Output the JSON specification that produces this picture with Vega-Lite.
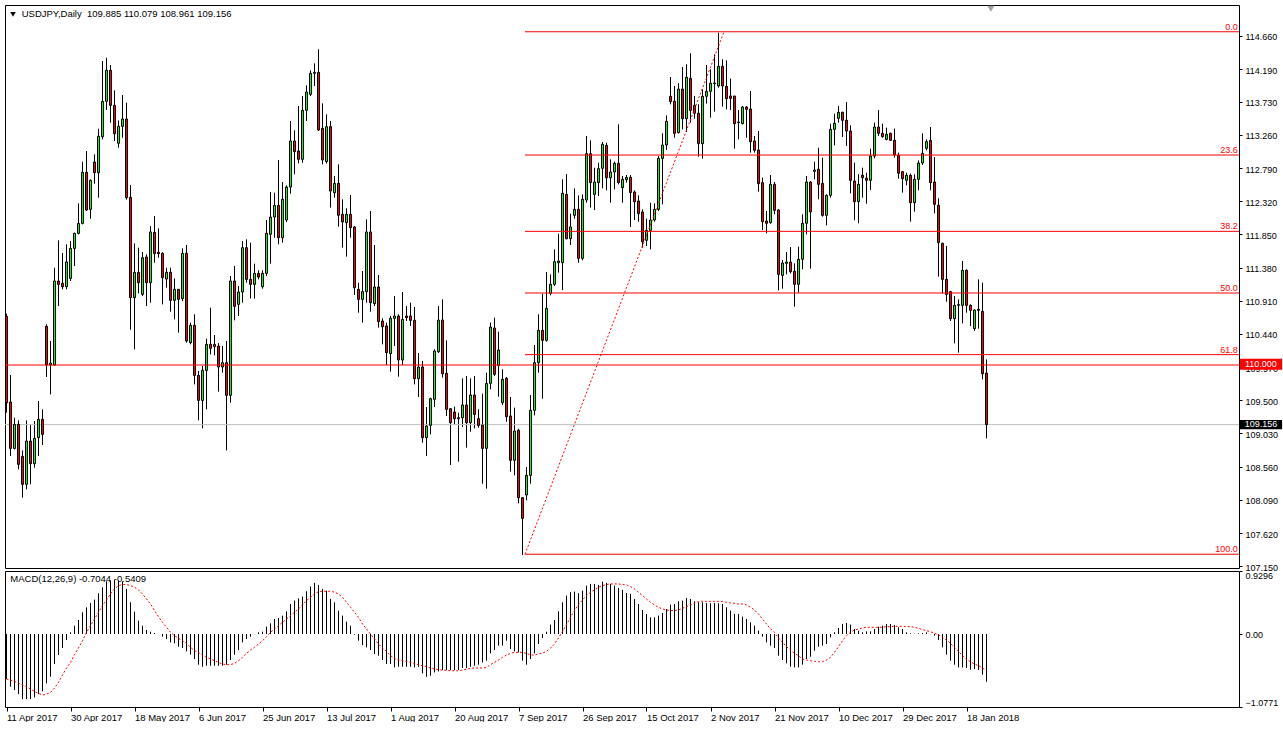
{
"$schema": "https://vega.github.io/schema/vega-lite/v6.json",
"background": "white",
"padding": {"left": 4, "top": 4, "right": 0, "bottom": 0},
"spacing": 3,
"bounds": "flush",
"config": {
 "view": {"stroke": "#000000", "strokeWidth": 1},
 "axis": {"labelFont": "Liberation Sans", "labelFontSize": 9, "labelColor": "#000000", "tickColor": "#000000", "grid": false, "domain": false, "title": null, "labelOverlap": false, "labelFlush": false, "labelBound": false},
 "text": {"font": "Liberation Sans"}
},
"resolve": {"scale": {"x": "independent", "y": "independent"}},
"datasets": {
 "fib": [{"lvl":"0.0","p":114.72},{"lvl":"23.6","p":112.974},{"lvl":"38.2","p":111.893},{"lvl":"50.0","p":111.02},{"lvl":"61.8","p":110.147},{"lvl":"100.0","p":107.32}],
 "trend": [{"i":129.625,"p":107.32},{"i":179.375,"p":114.72}],
 "px": [
{"i":0,"o":110.689,"h":110.727,"l":109.325,"c":109.466,"m":-0.665,"s":-0.665},
{"i":1,"o":109.476,"h":109.858,"l":108.711,"c":108.819,"m":-0.778,"s":-0.680},
{"i":2,"o":108.819,"h":109.254,"l":108.805,"c":109.159,"m":-0.828,"s":-0.700},
{"i":3,"o":109.159,"h":109.216,"l":108.522,"c":108.593,"m":-0.887,"s":-0.724},
{"i":4,"o":108.706,"h":108.791,"l":108.121,"c":108.310,"m":-0.961,"s":-0.749},
{"i":5,"o":108.310,"h":109.216,"l":108.239,"c":108.923,"m":-0.961,"s":-0.778},
{"i":6,"o":108.923,"h":109.150,"l":108.310,"c":108.602,"m":-0.961,"s":-0.813},
{"i":7,"o":108.602,"h":109.207,"l":108.546,"c":108.961,"m":-0.936,"s":-0.847},
{"i":8,"o":108.971,"h":109.490,"l":108.711,"c":109.230,"m":-0.887,"s":-0.877},
{"i":9,"o":109.230,"h":109.372,"l":108.867,"c":109.018,"m":-0.847,"s":-0.901},
{"i":10,"o":110.548,"h":110.576,"l":109.830,"c":110.000,"m":-0.729,"s":-0.887},
{"i":11,"o":110.000,"h":110.340,"l":109.584,"c":110.028,"m":-0.631,"s":-0.862},
{"i":12,"o":110.000,"h":111.378,"l":109.986,"c":111.190,"m":-0.443,"s":-0.798},
{"i":13,"o":111.190,"h":111.766,"l":110.836,"c":111.142,"m":-0.310,"s":-0.714},
{"i":14,"o":111.157,"h":111.586,"l":111.072,"c":111.109,"m":-0.207,"s":-0.606},
{"i":15,"o":111.109,"h":111.709,"l":111.072,"c":111.459,"m":-0.089,"s":-0.502},
{"i":16,"o":111.227,"h":111.756,"l":111.190,"c":111.652,"m":0.025,"s":-0.419},
{"i":17,"o":111.652,"h":111.874,"l":111.402,"c":111.865,"m":0.123,"s":-0.305},
{"i":18,"o":111.865,"h":112.290,"l":111.851,"c":112.006,"m":0.207,"s":-0.207},
{"i":19,"o":112.006,"h":112.880,"l":111.992,"c":112.729,"m":0.320,"s":-0.099},
{"i":20,"o":112.729,"h":113.031,"l":112.181,"c":112.195,"m":0.394,"s":0.025},
{"i":21,"o":112.205,"h":112.630,"l":112.072,"c":112.615,"m":0.458,"s":0.123},
{"i":22,"o":112.875,"h":112.984,"l":112.568,"c":112.724,"m":0.507,"s":0.222},
{"i":23,"o":112.724,"h":113.347,"l":112.370,"c":113.239,"m":0.601,"s":0.320},
{"i":24,"o":113.234,"h":114.306,"l":113.196,"c":113.734,"m":0.690,"s":0.419},
{"i":25,"o":113.734,"h":114.353,"l":113.612,"c":114.174,"m":0.778,"s":0.502},
{"i":26,"o":114.174,"h":114.249,"l":113.432,"c":113.678,"m":0.788,"s":0.591},
{"i":27,"o":113.678,"h":113.890,"l":113.173,"c":113.277,"m":0.798,"s":0.665},
{"i":28,"o":113.140,"h":113.465,"l":113.078,"c":113.380,"m":0.788,"s":0.714},
{"i":29,"o":113.380,"h":113.824,"l":113.220,"c":113.484,"m":0.778,"s":0.729},
{"i":30,"o":113.484,"h":113.716,"l":112.342,"c":112.370,"m":0.665,"s":0.729},
{"i":31,"o":112.375,"h":112.549,"l":110.500,"c":110.954,"m":0.468,"s":0.714},
{"i":32,"o":110.954,"h":111.723,"l":110.222,"c":111.312,"m":0.330,"s":0.690},
{"i":33,"o":111.312,"h":111.662,"l":111.015,"c":111.166,"m":0.197,"s":0.650},
{"i":34,"o":111.001,"h":111.600,"l":110.977,"c":111.520,"m":0.123,"s":0.591},
{"i":35,"o":111.530,"h":111.567,"l":110.836,"c":111.166,"m":0.059,"s":0.517},
{"i":36,"o":111.166,"h":111.969,"l":110.883,"c":111.884,"m":0.034,"s":0.443},
{"i":37,"o":111.879,"h":112.110,"l":111.449,"c":111.577,"m":0.015,"s":0.345},
{"i":38,"o":111.596,"h":111.936,"l":111.520,"c":111.577,"m":-0.002,"s":0.256},
{"i":39,"o":111.582,"h":111.596,"l":110.859,"c":111.237,"m":-0.039,"s":0.172},
{"i":40,"o":111.218,"h":111.378,"l":111.095,"c":111.312,"m":-0.074,"s":0.099},
{"i":41,"o":111.312,"h":111.378,"l":110.755,"c":110.916,"m":-0.123,"s":0.025},
{"i":42,"o":110.916,"h":111.227,"l":110.647,"c":111.072,"m":-0.138,"s":-0.025},
{"i":43,"o":111.072,"h":111.072,"l":110.458,"c":110.930,"m":-0.187,"s":-0.064},
{"i":44,"o":110.939,"h":111.652,"l":110.906,"c":111.582,"m":-0.207,"s":-0.099},
{"i":45,"o":111.582,"h":111.700,"l":110.316,"c":110.340,"m":-0.256,"s":-0.138},
{"i":46,"o":110.316,"h":110.599,"l":110.293,"c":110.562,"m":-0.305,"s":-0.197},
{"i":47,"o":110.562,"h":110.718,"l":109.726,"c":109.853,"m":-0.369,"s":-0.246},
{"i":48,"o":109.853,"h":109.915,"l":109.216,"c":109.499,"m":-0.453,"s":-0.271},
{"i":49,"o":109.499,"h":109.986,"l":109.103,"c":109.924,"m":-0.483,"s":-0.310},
{"i":50,"o":109.924,"h":110.373,"l":109.372,"c":110.293,"m":-0.468,"s":-0.345},
{"i":51,"o":110.293,"h":110.812,"l":110.151,"c":110.236,"m":-0.468,"s":-0.369},
{"i":52,"o":110.293,"h":110.425,"l":110.137,"c":110.260,"m":-0.468,"s":-0.394},
{"i":53,"o":110.269,"h":110.311,"l":109.622,"c":109.972,"m":-0.468,"s":-0.419},
{"i":54,"o":109.972,"h":110.269,"l":109.891,"c":110.033,"m":-0.468,"s":-0.443},
{"i":55,"o":110.033,"h":110.340,"l":108.791,"c":109.570,"m":-0.453,"s":-0.453},
{"i":56,"o":109.570,"h":111.260,"l":109.466,"c":111.190,"m":-0.384,"s":-0.453},
{"i":57,"o":111.190,"h":111.402,"l":110.633,"c":110.831,"m":-0.305,"s":-0.433},
{"i":58,"o":110.859,"h":111.119,"l":110.694,"c":111.034,"m":-0.236,"s":-0.394},
{"i":59,"o":111.034,"h":111.756,"l":110.883,"c":111.662,"m":-0.123,"s":-0.345},
{"i":60,"o":111.662,"h":111.780,"l":111.166,"c":111.213,"m":-0.074,"s":-0.286},
{"i":61,"o":111.213,"h":111.733,"l":110.944,"c":111.142,"m":-0.039,"s":-0.236},
{"i":62,"o":111.142,"h":111.435,"l":110.939,"c":111.298,"m":-0.002,"s":-0.197},
{"i":63,"o":111.298,"h":111.341,"l":111.213,"c":111.246,"m":0.025,"s":-0.148},
{"i":64,"o":111.109,"h":111.341,"l":111.081,"c":111.298,"m":0.034,"s":-0.099},
{"i":65,"o":111.298,"h":112.054,"l":111.260,"c":111.865,"m":0.108,"s":-0.039},
{"i":66,"o":111.851,"h":112.450,"l":111.435,"c":112.096,"m":0.158,"s":0.025},
{"i":67,"o":112.096,"h":112.441,"l":111.803,"c":112.261,"m":0.222,"s":0.074},
{"i":68,"o":112.261,"h":112.904,"l":111.709,"c":111.803,"m":0.236,"s":0.123},
{"i":69,"o":111.803,"h":112.592,"l":111.733,"c":112.346,"m":0.271,"s":0.172},
{"i":70,"o":112.054,"h":112.545,"l":112.025,"c":112.521,"m":0.335,"s":0.222},
{"i":71,"o":112.521,"h":113.456,"l":112.427,"c":113.173,"m":0.443,"s":0.271},
{"i":72,"o":113.173,"h":113.324,"l":112.700,"c":113.022,"m":0.493,"s":0.320},
{"i":73,"o":113.031,"h":113.668,"l":112.856,"c":112.913,"m":0.527,"s":0.369},
{"i":74,"o":112.913,"h":113.810,"l":112.866,"c":113.607,"m":0.552,"s":0.429},
{"i":75,"o":113.607,"h":113.961,"l":113.456,"c":113.867,"m":0.631,"s":0.493},
{"i":76,"o":113.834,"h":114.174,"l":113.810,"c":114.131,"m":0.700,"s":0.542},
{"i":77,"o":114.131,"h":114.273,"l":113.952,"c":114.145,"m":0.754,"s":0.591},
{"i":78,"o":114.145,"h":114.471,"l":113.314,"c":113.328,"m":0.724,"s":0.626},
{"i":79,"o":113.352,"h":113.706,"l":112.842,"c":112.904,"m":0.665,"s":0.631},
{"i":80,"o":112.880,"h":113.550,"l":112.852,"c":113.376,"m":0.640,"s":0.631},
{"i":81,"o":113.376,"h":113.456,"l":112.228,"c":112.464,"m":0.517,"s":0.631},
{"i":82,"o":112.441,"h":112.677,"l":112.370,"c":112.573,"m":0.468,"s":0.616},
{"i":83,"o":112.573,"h":112.842,"l":111.959,"c":112.120,"m":0.345,"s":0.591},
{"i":84,"o":112.134,"h":112.347,"l":111.662,"c":112.026,"m":0.271,"s":0.542},
{"i":85,"o":112.016,"h":112.219,"l":111.535,"c":112.134,"m":0.182,"s":0.468},
{"i":86,"o":112.134,"h":112.408,"l":111.804,"c":111.945,"m":0.123,"s":0.394},
{"i":87,"o":111.955,"h":111.969,"l":110.992,"c":111.095,"m":-0.010,"s":0.320},
{"i":88,"o":111.072,"h":111.166,"l":110.741,"c":110.930,"m":-0.099,"s":0.246},
{"i":89,"o":110.930,"h":111.331,"l":110.600,"c":111.039,"m":-0.163,"s":0.148},
{"i":90,"o":111.039,"h":112.063,"l":110.883,"c":111.884,"m":-0.197,"s":0.074},
{"i":91,"o":111.884,"h":112.181,"l":110.755,"c":110.883,"m":-0.236,"s":0.000},
{"i":92,"o":110.869,"h":111.700,"l":110.836,"c":111.105,"m":-0.296,"s":-0.074},
{"i":93,"o":111.105,"h":111.275,"l":110.529,"c":110.614,"m":-0.320,"s":-0.148},
{"i":94,"o":110.623,"h":110.661,"l":110.293,"c":110.543,"m":-0.384,"s":-0.207},
{"i":95,"o":110.552,"h":110.600,"l":110.000,"c":110.175,"m":-0.443,"s":-0.256},
{"i":96,"o":110.161,"h":110.694,"l":109.906,"c":110.661,"m":-0.443,"s":-0.320},
{"i":97,"o":110.661,"h":110.977,"l":110.269,"c":110.694,"m":-0.493,"s":-0.360},
{"i":98,"o":110.694,"h":110.718,"l":109.835,"c":110.071,"m":-0.483,"s":-0.384},
{"i":99,"o":110.071,"h":111.034,"l":110.000,"c":110.647,"m":-0.483,"s":-0.394},
{"i":100,"o":110.694,"h":110.836,"l":110.623,"c":110.670,"m":-0.483,"s":-0.404},
{"i":101,"o":110.694,"h":110.883,"l":110.552,"c":110.633,"m":-0.483,"s":-0.419},
{"i":102,"o":110.633,"h":110.822,"l":109.726,"c":109.806,"m":-0.493,"s":-0.433},
{"i":103,"o":109.806,"h":110.170,"l":109.547,"c":109.972,"m":-0.483,"s":-0.453},
{"i":104,"o":109.972,"h":110.057,"l":108.900,"c":108.971,"m":-0.581,"s":-0.468},
{"i":105,"o":108.971,"h":109.405,"l":108.711,"c":109.136,"m":-0.631,"s":-0.483},
{"i":106,"o":109.145,"h":109.537,"l":109.018,"c":109.523,"m":-0.616,"s":-0.502},
{"i":107,"o":109.514,"h":110.222,"l":109.405,"c":110.198,"m":-0.567,"s":-0.517},
{"i":108,"o":110.189,"h":110.836,"l":110.170,"c":110.637,"m":-0.552,"s":-0.527},
{"i":109,"o":110.637,"h":110.930,"l":109.821,"c":109.877,"m":-0.532,"s":-0.532},
{"i":110,"o":109.882,"h":110.349,"l":109.278,"c":109.372,"m":-0.532,"s":-0.537},
{"i":111,"o":109.382,"h":109.382,"l":108.584,"c":109.183,"m":-0.532,"s":-0.542},
{"i":112,"o":109.334,"h":109.410,"l":109.160,"c":109.240,"m":-0.532,"s":-0.542},
{"i":113,"o":109.240,"h":109.325,"l":108.631,"c":109.254,"m":-0.532,"s":-0.542},
{"i":114,"o":109.254,"h":109.811,"l":109.122,"c":109.434,"m":-0.502,"s":-0.532},
{"i":115,"o":109.434,"h":109.844,"l":108.829,"c":109.183,"m":-0.502,"s":-0.517},
{"i":116,"o":109.183,"h":109.811,"l":109.056,"c":109.575,"m":-0.483,"s":-0.507},
{"i":117,"o":109.575,"h":109.844,"l":109.103,"c":109.301,"m":-0.468,"s":-0.502},
{"i":118,"o":109.240,"h":109.372,"l":109.112,"c":109.145,"m":-0.453,"s":-0.502},
{"i":119,"o":109.150,"h":109.594,"l":108.319,"c":108.820,"m":-0.419,"s":-0.502},
{"i":120,"o":108.820,"h":109.891,"l":108.248,"c":109.740,"m":-0.394,"s":-0.493},
{"i":121,"o":109.740,"h":110.600,"l":109.655,"c":110.538,"m":-0.286,"s":-0.453},
{"i":122,"o":110.524,"h":110.670,"l":109.844,"c":109.868,"m":-0.236,"s":-0.419},
{"i":123,"o":109.995,"h":110.472,"l":109.551,"c":110.212,"m":-0.172,"s":-0.384},
{"i":124,"o":109.466,"h":109.939,"l":109.433,"c":109.797,"m":-0.172,"s":-0.345},
{"i":125,"o":109.811,"h":109.830,"l":109.197,"c":109.268,"m":-0.099,"s":-0.310},
{"i":126,"o":109.278,"h":109.547,"l":108.489,"c":108.650,"m":-0.222,"s":-0.286},
{"i":127,"o":108.650,"h":109.396,"l":108.437,"c":109.065,"m":-0.256,"s":-0.271},
{"i":128,"o":109.075,"h":109.098,"l":108.041,"c":108.121,"m":-0.271,"s":-0.271},
{"i":129,"o":108.121,"h":108.121,"l":107.309,"c":107.828,"m":-0.394,"s":-0.271},
{"i":130,"o":108.159,"h":108.555,"l":108.083,"c":108.437,"m":-0.453,"s":-0.286},
{"i":131,"o":108.437,"h":109.575,"l":108.319,"c":109.358,"m":-0.369,"s":-0.310},
{"i":132,"o":109.358,"h":110.283,"l":109.287,"c":110.033,"m":-0.286,"s":-0.310},
{"i":133,"o":110.033,"h":110.718,"l":109.891,"c":110.491,"m":-0.148,"s":-0.296},
{"i":134,"o":110.491,"h":111.010,"l":109.523,"c":110.349,"m":-0.059,"s":-0.281},
{"i":135,"o":110.349,"h":111.317,"l":110.331,"c":110.803,"m":0.034,"s":-0.256},
{"i":136,"o":111.015,"h":111.284,"l":110.987,"c":111.143,"m":0.138,"s":-0.207},
{"i":137,"o":111.143,"h":111.638,"l":111.119,"c":111.464,"m":0.207,"s":-0.148},
{"i":138,"o":111.449,"h":111.860,"l":111.308,"c":111.473,"m":0.335,"s":-0.059},
{"i":139,"o":111.449,"h":112.630,"l":111.062,"c":112.432,"m":0.468,"s":0.039},
{"i":140,"o":112.417,"h":112.705,"l":111.780,"c":111.789,"m":0.567,"s":0.138},
{"i":141,"o":111.789,"h":112.144,"l":111.700,"c":111.955,"m":0.616,"s":0.246},
{"i":142,"o":112.120,"h":112.502,"l":112.073,"c":112.205,"m":0.626,"s":0.345},
{"i":143,"o":112.205,"h":112.403,"l":111.449,"c":111.511,"m":0.601,"s":0.433},
{"i":144,"o":111.511,"h":112.417,"l":111.483,"c":112.347,"m":0.640,"s":0.502},
{"i":145,"o":112.337,"h":113.244,"l":112.299,"c":112.993,"m":0.714,"s":0.567},
{"i":146,"o":112.993,"h":113.182,"l":112.229,"c":112.583,"m":0.739,"s":0.616},
{"i":147,"o":112.417,"h":112.795,"l":112.195,"c":112.592,"m":0.739,"s":0.650},
{"i":148,"o":112.583,"h":112.866,"l":112.394,"c":112.781,"m":0.724,"s":0.690},
{"i":149,"o":112.786,"h":113.159,"l":112.502,"c":113.126,"m":0.773,"s":0.714},
{"i":150,"o":113.111,"h":113.149,"l":112.474,"c":112.653,"m":0.754,"s":0.729},
{"i":151,"o":112.653,"h":112.913,"l":112.299,"c":112.734,"m":0.739,"s":0.739},
{"i":152,"o":112.734,"h":112.880,"l":112.488,"c":112.856,"m":0.714,"s":0.739},
{"i":153,"o":112.856,"h":113.409,"l":112.559,"c":112.583,"m":0.680,"s":0.739},
{"i":154,"o":112.512,"h":112.677,"l":112.299,"c":112.630,"m":0.650,"s":0.729},
{"i":155,"o":112.625,"h":112.691,"l":112.583,"c":112.658,"m":0.606,"s":0.724},
{"i":156,"o":112.658,"h":112.691,"l":111.955,"c":112.441,"m":0.591,"s":0.700},
{"i":157,"o":112.450,"h":112.474,"l":112.054,"c":112.313,"m":0.517,"s":0.665},
{"i":158,"o":112.323,"h":112.403,"l":112.030,"c":112.144,"m":0.443,"s":0.616},
{"i":159,"o":112.167,"h":112.205,"l":111.662,"c":111.747,"m":0.355,"s":0.567},
{"i":160,"o":111.766,"h":112.073,"l":111.686,"c":111.907,"m":0.296,"s":0.517},
{"i":161,"o":111.907,"h":112.299,"l":111.638,"c":112.054,"m":0.246,"s":0.468},
{"i":162,"o":112.054,"h":112.290,"l":112.030,"c":112.205,"m":0.246,"s":0.429},
{"i":163,"o":112.205,"h":112.960,"l":112.181,"c":112.927,"m":0.271,"s":0.394},
{"i":164,"o":112.927,"h":113.281,"l":112.276,"c":113.116,"m":0.310,"s":0.369},
{"i":165,"o":113.116,"h":113.536,"l":113.045,"c":113.451,"m":0.369,"s":0.355},
{"i":166,"o":113.806,"h":114.079,"l":113.692,"c":113.730,"m":0.433,"s":0.345},
{"i":167,"o":113.735,"h":113.952,"l":113.220,"c":113.281,"m":0.443,"s":0.345},
{"i":168,"o":113.291,"h":113.990,"l":113.281,"c":113.909,"m":0.483,"s":0.355},
{"i":169,"o":113.909,"h":114.221,"l":113.338,"c":113.489,"m":0.493,"s":0.379},
{"i":170,"o":113.489,"h":114.259,"l":113.300,"c":114.075,"m":0.532,"s":0.404},
{"i":171,"o":114.060,"h":114.415,"l":113.433,"c":113.607,"m":0.517,"s":0.429},
{"i":172,"o":113.678,"h":113.810,"l":113.489,"c":113.565,"m":0.483,"s":0.453},
{"i":173,"o":113.565,"h":113.692,"l":112.951,"c":113.135,"m":0.468,"s":0.478},
{"i":174,"o":113.135,"h":113.905,"l":112.923,"c":113.806,"m":0.468,"s":0.483},
{"i":175,"o":113.806,"h":114.249,"l":113.702,"c":113.876,"m":0.458,"s":0.483},
{"i":176,"o":113.876,"h":114.188,"l":113.503,"c":113.990,"m":0.453,"s":0.483},
{"i":177,"o":113.985,"h":114.400,"l":113.588,"c":113.994,"m":0.458,"s":0.483},
{"i":178,"o":113.952,"h":114.707,"l":113.928,"c":114.230,"m":0.453,"s":0.483},
{"i":179,"o":114.230,"h":114.330,"l":113.659,"c":113.952,"m":0.443,"s":0.478},
{"i":180,"o":113.947,"h":114.315,"l":113.621,"c":113.772,"m":0.394,"s":0.468},
{"i":181,"o":113.810,"h":114.056,"l":113.612,"c":113.777,"m":0.345,"s":0.458},
{"i":182,"o":113.810,"h":113.810,"l":113.064,"c":113.418,"m":0.296,"s":0.453},
{"i":183,"o":113.433,"h":113.612,"l":113.196,"c":113.442,"m":0.296,"s":0.443},
{"i":184,"o":113.418,"h":113.669,"l":113.409,"c":113.654,"m":0.256,"s":0.443},
{"i":185,"o":113.654,"h":113.669,"l":113.220,"c":113.621,"m":0.222,"s":0.429},
{"i":186,"o":113.626,"h":113.881,"l":113.008,"c":113.163,"m":0.172,"s":0.394},
{"i":187,"o":113.173,"h":113.244,"l":113.008,"c":113.041,"m":0.123,"s":0.355},
{"i":188,"o":113.045,"h":113.314,"l":112.455,"c":112.569,"m":0.049,"s":0.296},
{"i":189,"o":112.583,"h":112.654,"l":111.912,"c":112.030,"m":-0.039,"s":0.222},
{"i":190,"o":112.040,"h":112.181,"l":111.865,"c":112.007,"m":-0.123,"s":0.148},
{"i":191,"o":112.016,"h":112.691,"l":112.002,"c":112.559,"m":-0.172,"s":0.074},
{"i":192,"o":112.559,"h":112.592,"l":112.134,"c":112.191,"m":-0.207,"s":0.025},
{"i":193,"o":112.196,"h":112.205,"l":111.058,"c":111.284,"m":-0.320,"s":-0.059},
{"i":194,"o":111.270,"h":111.487,"l":111.081,"c":111.445,"m":-0.384,"s":-0.123},
{"i":195,"o":111.440,"h":111.601,"l":111.284,"c":111.459,"m":-0.433,"s":-0.187},
{"i":196,"o":111.459,"h":111.671,"l":111.298,"c":111.322,"m":-0.483,"s":-0.236},
{"i":197,"o":111.327,"h":111.440,"l":110.826,"c":111.143,"m":-0.493,"s":-0.286},
{"i":198,"o":111.143,"h":111.676,"l":111.025,"c":111.497,"m":-0.493,"s":-0.320},
{"i":199,"o":111.497,"h":112.134,"l":111.355,"c":112.007,"m":-0.453,"s":-0.369},
{"i":200,"o":112.007,"h":112.677,"l":111.851,"c":112.592,"m":-0.369,"s":-0.384},
{"i":201,"o":112.592,"h":112.606,"l":111.365,"c":112.167,"m":-0.335,"s":-0.394},
{"i":202,"o":112.743,"h":112.880,"l":112.630,"c":112.762,"m":-0.246,"s":-0.404},
{"i":203,"o":112.772,"h":113.078,"l":112.347,"c":112.559,"m":-0.187,"s":-0.409},
{"i":204,"o":112.573,"h":112.937,"l":112.101,"c":112.120,"m":-0.172,"s":-0.409},
{"i":205,"o":112.120,"h":112.417,"l":111.978,"c":112.403,"m":-0.148,"s":-0.384},
{"i":206,"o":112.403,"h":113.418,"l":112.370,"c":113.338,"m":-0.049,"s":-0.345},
{"i":207,"o":113.338,"h":113.560,"l":113.111,"c":113.423,"m":0.025,"s":-0.271},
{"i":208,"o":113.494,"h":113.669,"l":113.433,"c":113.579,"m":0.089,"s":-0.187},
{"i":209,"o":113.579,"h":113.588,"l":113.230,"c":113.466,"m":0.148,"s":-0.099},
{"i":210,"o":113.466,"h":113.725,"l":113.102,"c":113.314,"m":0.163,"s":-0.025},
{"i":211,"o":113.314,"h":113.395,"l":112.432,"c":112.616,"m":0.138,"s":0.025},
{"i":212,"o":112.606,"h":112.866,"l":112.049,"c":112.314,"m":0.074,"s":0.059},
{"i":213,"o":112.314,"h":112.701,"l":112.007,"c":112.559,"m":0.049,"s":0.074},
{"i":214,"o":112.687,"h":112.795,"l":112.370,"c":112.653,"m":0.025,"s":0.089},
{"i":215,"o":112.644,"h":112.724,"l":112.285,"c":112.616,"m":0.039,"s":0.099},
{"i":216,"o":112.616,"h":113.064,"l":112.479,"c":112.960,"m":0.039,"s":0.099},
{"i":217,"o":112.960,"h":113.433,"l":112.927,"c":113.371,"m":0.074,"s":0.099},
{"i":218,"o":113.371,"h":113.612,"l":113.244,"c":113.281,"m":0.108,"s":0.099},
{"i":219,"o":113.281,"h":113.418,"l":113.220,"c":113.234,"m":0.123,"s":0.099},
{"i":220,"o":113.196,"h":113.362,"l":113.182,"c":113.267,"m":0.148,"s":0.108},
{"i":221,"o":113.281,"h":113.291,"l":113.173,"c":113.182,"m":0.148,"s":0.108},
{"i":222,"o":113.182,"h":113.348,"l":112.937,"c":112.975,"m":0.133,"s":0.113},
{"i":223,"o":112.970,"h":113.008,"l":112.639,"c":112.715,"m":0.099,"s":0.113},
{"i":224,"o":112.738,"h":112.748,"l":112.441,"c":112.639,"m":0.074,"s":0.113},
{"i":225,"o":112.616,"h":112.724,"l":112.545,"c":112.687,"m":0.025,"s":0.108},
{"i":226,"o":112.687,"h":112.710,"l":112.030,"c":112.299,"m":0.010,"s":0.108},
{"i":227,"o":112.299,"h":112.701,"l":112.172,"c":112.630,"m":0.003,"s":0.099},
{"i":228,"o":112.630,"h":112.899,"l":112.474,"c":112.861,"m":0.010,"s":0.084},
{"i":229,"o":112.861,"h":113.281,"l":112.833,"c":112.998,"m":0.015,"s":0.064},
{"i":230,"o":113.069,"h":113.196,"l":113.041,"c":113.163,"m":0.025,"s":0.049},
{"i":231,"o":113.182,"h":113.371,"l":112.474,"c":112.583,"m":-0.003,"s":0.034},
{"i":232,"o":112.592,"h":112.946,"l":112.148,"c":112.276,"m":-0.025,"s":0.010},
{"i":233,"o":112.262,"h":112.361,"l":111.251,"c":111.733,"m":-0.089,"s":-0.010},
{"i":234,"o":111.723,"h":111.733,"l":111.015,"c":111.213,"m":-0.197,"s":-0.049},
{"i":235,"o":111.213,"h":111.686,"l":110.897,"c":111.001,"m":-0.305,"s":-0.089},
{"i":236,"o":111.039,"h":111.048,"l":110.623,"c":110.656,"m":-0.394,"s":-0.138},
{"i":237,"o":110.656,"h":110.977,"l":110.307,"c":110.845,"m":-0.453,"s":-0.197},
{"i":238,"o":110.845,"h":110.930,"l":110.175,"c":110.855,"m":-0.493,"s":-0.256},
{"i":239,"o":110.845,"h":111.473,"l":110.590,"c":111.341,"m":-0.493,"s":-0.320},
{"i":240,"o":111.341,"h":111.355,"l":110.741,"c":110.845,"m":-0.502,"s":-0.379},
{"i":241,"o":110.845,"h":110.859,"l":110.552,"c":110.774,"m":-0.527,"s":-0.409},
{"i":242,"o":110.515,"h":110.789,"l":110.482,"c":110.779,"m":-0.517,"s":-0.443},
{"i":243,"o":110.774,"h":111.213,"l":110.515,"c":110.789,"m":-0.532,"s":-0.468},
{"i":244,"o":110.760,"h":111.166,"l":109.797,"c":109.877,"m":-0.601,"s":-0.502},
{"i":245,"o":109.885,"h":110.079,"l":108.961,"c":109.156,"m":-0.7044,"s":-0.5409}
 ]
},
"vconcat": [
 {
  "width": 1234,
  "height": 563,
  "data": {"name": "px"},
  "layer": [
   {"mark": {"type": "rule", "color": "#000000", "strokeWidth": 1},
    "encoding": {
     "x": {"field": "i", "type": "quantitative", "scale": {"domain": [-0.375, 308.125], "nice": false, "zero": false, "padding": 0}, "axis": null},
     "y": {"field": "l", "type": "quantitative", "scale": {"domain": [107.125, 115.099], "nice": false, "zero": false, "padding": 0},
       "axis": {"orient": "right", "values": [114.66,114.19,113.73,113.26,112.79,112.32,111.85,111.38,110.91,110.44,109.97,109.5,109.03,108.56,108.09,107.62,107.15], "tickCount": 40, "format": ".3f", "tickSize": 3, "labelPadding": 3, "labelOffset": 1, "labelOverlap": false, "labelBound": false, "labelFlush": false}},
     "y2": {"field": "h"}
    }},
   {"data": {"values": [{}]}, "mark": {"type": "rule", "color": "#C0C0C0", "strokeWidth": 1}, "encoding": {"y": {"datum": 109.156, "type": "quantitative"}}},
   {"mark": {"type": "bar", "size": 2, "stroke": "#000000", "strokeWidth": 1},
    "encoding": {
     "x": {"field": "i", "type": "quantitative"},
     "y": {"field": "o", "type": "quantitative"},
     "y2": {"field": "c"},
     "fill": {"condition": {"test": "datum.c >= datum.o", "value": "#00FF00"}, "value": "#FF0000"}
    }},
   {"data": {"values": [{}]}, "mark": {"type": "rule", "color": "#FF0000", "strokeWidth": 1}, "encoding": {"y": {"datum": 110, "type": "quantitative"}}},
   {"data": {"name": "fib"}, "mark": {"type": "rule", "color": "#FF0000", "strokeWidth": 1},
    "encoding": {"x": {"datum": 129.625, "type": "quantitative"}, "x2": {"datum": 308.125}, "y": {"field": "p", "type": "quantitative"}}},
   {"data": {"name": "fib"}, "mark": {"type": "text", "color": "#FF0000", "align": "right", "baseline": "alphabetic", "dy": -2, "fontSize": 9},
    "encoding": {"x": {"datum": 307.8, "type": "quantitative"}, "y": {"field": "p", "type": "quantitative"}, "text": {"field": "lvl"}}},
   {"data": {"name": "trend"}, "mark": {"type": "line", "color": "#FF0000", "strokeWidth": 1, "strokeDash": [2, 2]},
    "encoding": {"x": {"field": "i", "type": "quantitative"}, "y": {"field": "p", "type": "quantitative"}}},
   {"data": {"values": [{}]}, "mark": {"type": "point", "shape": "triangle-down", "filled": true, "color": "#000000", "size": 30, "opacity": 1},
    "encoding": {"x": {"datum": 1.625, "type": "quantitative"}, "y": {"datum": 114.965, "type": "quantitative"}}},
   {"data": {"values": [{}]}, "mark": {"type": "text", "align": "left", "baseline": "middle", "fontSize": 9.5, "color": "#000000"},
    "encoding": {"x": {"datum": 3.8, "type": "quantitative"}, "y": {"datum": 114.97, "type": "quantitative"}, "text": {"value": "USDJPY,Daily\u00a0 109.885 110.079 108.961 109.156"}}},
   {"data": {"values": [{}]}, "mark": {"type": "point", "shape": "triangle-down", "filled": true, "color": "#A0A0A0", "size": 50, "opacity": 1},
    "encoding": {"x": {"datum": 246.1, "type": "quantitative"}, "y": {"datum": 115.045, "type": "quantitative"}}},
   {"data": {"values": [{}]}, "mark": {"type": "rect", "color": "#FF0000"},
    "encoding": {"x": {"datum": 308.375, "type": "quantitative"}, "x2": {"datum": 318.9}, "y": {"datum": 110.089, "type": "quantitative"}, "y2": {"datum": 109.933}}},
   {"data": {"values": [{}]}, "mark": {"type": "text", "color": "#FFFFFF", "align": "center", "baseline": "middle", "fontSize": 9},
    "encoding": {"x": {"datum": 313.6, "type": "quantitative"}, "y": {"datum": 110.01, "type": "quantitative"}, "text": {"value": "110.000"}}},
   {"data": {"values": [{}]}, "mark": {"type": "rect", "color": "#000000"},
    "encoding": {"x": {"datum": 308.375, "type": "quantitative"}, "x2": {"datum": 318.9}, "y": {"datum": 109.221, "type": "quantitative"}, "y2": {"datum": 109.089}}},
   {"data": {"values": [{}]}, "mark": {"type": "text", "color": "#FFFFFF", "align": "center", "baseline": "middle", "fontSize": 9},
    "encoding": {"x": {"datum": 313.6, "type": "quantitative"}, "y": {"datum": 109.16, "type": "quantitative"}, "text": {"value": "109.156"}}}
  ]
 },
 {
  "width": 1234,
  "height": 136,
  "data": {"name": "px"},
  "layer": [
   {"mark": {"type": "rule", "color": "#000000", "strokeWidth": 1},
    "encoding": {
     "x": {"field": "i", "type": "quantitative", "scale": {"domain": [-0.375, 308.125], "nice": false, "zero": false, "padding": 0},
       "axis": {"orient": "bottom", "values": [0,16,32,48,64,80,96,112,128,144,160,176,192,208,224,240], "tickCount": 40,
         "labelExpr": "['11 Apr 2017','30 Apr 2017','18 May 2017','6 Jun 2017','25 Jun 2017','13 Jul 2017','1 Aug 2017','20 Aug 2017','7 Sep 2017','26 Sep 2017','15 Oct 2017','2 Nov 2017','21 Nov 2017','10 Dec 2017','29 Dec 2017','18 Jan 2018'][round(datum.value/16)]",
         "tickSize": 4, "labelAlign": "left", "labelBaseline": "top", "labelPadding": 1, "labelFontSize": 9.5, "labelOverlap": false, "labelFlush": false, "labelBound": false}},
     "y": {"field": "m", "type": "quantitative", "scale": {"domain": [-1.0771, 0.9296], "nice": false, "zero": false, "padding": 0},
       "axis": {"orient": "right", "values": [0.9296, 0, -1.0771], "tickCount": 10, "labelExpr": "datum.value == 0 ? '0.00' : format(datum.value, '.4f')", "tickSize": 3, "labelPadding": 3, "labelOverlap": false, "labelFlush": false, "labelBound": false,
         "labelBaseline": {"condition": [{"test": "datum.value > 0.5", "value": "top"}, {"test": "datum.value < -0.5", "value": "bottom"}], "value": "middle"}}},
     "y2": {"datum": 0}
    }},
   {"mark": {"type": "line", "color": "#FF0000", "strokeWidth": 1, "strokeDash": [2, 2]},
    "encoding": {"x": {"field": "i", "type": "quantitative"}, "y": {"field": "s", "type": "quantitative"}}},
   {"data": {"values": [{}]}, "mark": {"type": "text", "align": "left", "baseline": "middle", "fontSize": 9.5, "color": "#000000"},
    "encoding": {"x": {"datum": 0.95, "type": "quantitative"}, "y": {"datum": 0.807, "type": "quantitative"}, "text": {"value": "MACD(12,26,9) -0.7044 -0.5409"}}}
  ]
 }
]
}
